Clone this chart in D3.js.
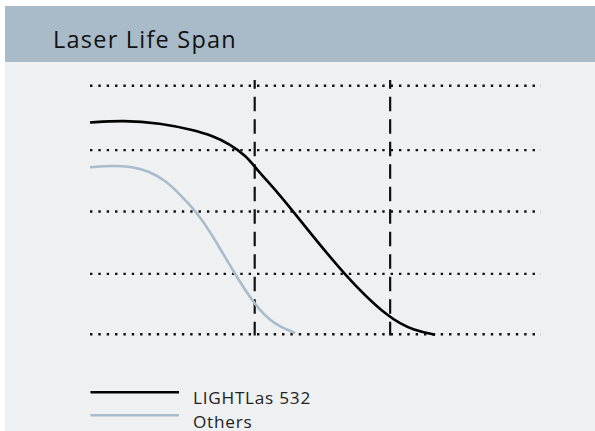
<!DOCTYPE html>
<html>
<head>
<meta charset="utf-8">
<script src="https://cdn.jsdelivr.net/npm/d3@7"></script>
<style>
  html, body { margin: 0; padding: 0; background: #ffffff; }
  svg { display: block; }
</style>
</head>
<body>
<svg id="chart" width="595" height="431"></svg>
<script>
// ---- data ----
const title = "Laser Life Span";
const seriesNames = ["LIGHTLas 532", "Others"];
// x: relative time (0-100), y: relative output (0-100)
const lightlasX = [0, 7.3, 15.6, 22.9, 27.3, 31.1, 34.8, 36.5, 42.2, 45.2, 56.3, 66.7, 72.2, 76.7];
const lightlasY = [85.2, 86.1, 85.0, 82.2, 79.8, 76.5, 71.6, 67.5, 56.0, 49.3, 24.1, 5.8, 1.5, -0.2];
const othersX = [0, 5.1, 8.9, 13.0, 17.0, 19.3, 23.7, 27.4, 32.2, 36.6, 40.7, 45.6];
const othersY = [67.2, 67.9, 67.5, 65.8, 61.5, 57.5, 49.3, 39.3, 24.2, 11.8, 4.1, 0.5];
const gridValues = [0, 24.3, 49.4, 74.1, 100];
const markerValues = [36.6, 66.7];

const W = 595, H = 431;
const svg = d3.select("#chart");
const FONT = "'Open Sans', Lato, sans-serif";

function fitWidth(sel, target) {
  const node = sel.node();
  const len = node.getComputedTextLength();
  const n = node.textContent.length;
  sel.attr("letter-spacing", ((target - len) / n).toFixed(2));
}

// panels
svg.append("rect").attr("x", 5).attr("y", 6).attr("width", W - 5).attr("height", 56).attr("fill", "#a9bbc8");
svg.append("rect").attr("x", 5).attr("y", 62).attr("width", W - 5).attr("height", H - 62).attr("fill", "#eff0f2");

const t = svg.append("text").attr("x", 53).attr("y", 47.5)
  .attr("font-family", FONT).attr("font-size", 23.5)
  .attr("fill", "#111").text(title);
fitWidth(t, 184);

const x = d3.scaleLinear().domain([0, 100]).range([90, 540]);
const y = d3.scaleLinear().domain([0, 100]).range([334.3, 85.7]);

// horizontal dotted grid
svg.append("g").selectAll("line").data(gridValues).join("line")
  .attr("x1", x(0)).attr("x2", x(100) + 1).attr("y1", d => y(d)).attr("y2", d => y(d))
  .attr("stroke", "#111").attr("stroke-width", 2.4).attr("stroke-dasharray", "2.4,5.95");

// vertical dashed markers
svg.append("g").selectAll("line").data(markerValues).join("line")
  .attr("x1", d => x(d)).attr("x2", d => x(d)).attr("y1", 80).attr("y2", 335.5)
  .attr("stroke", "#111").attr("stroke-width", 2.2)
  .attr("stroke-dasharray", "14.5,8").attr("stroke-dashoffset", 5.8);

const line = d3.line().x(d => x(d[0])).y(d => y(d[1])).curve(d3.curveBasis);
svg.append("path").datum(othersX.map((v, i) => [v, othersY[i]]))
  .attr("d", line).attr("fill", "none").attr("stroke", "#a9bccb").attr("stroke-width", 2.6);
svg.append("path").datum(lightlasX.map((v, i) => [v, lightlasY[i]]))
  .attr("d", line).attr("fill", "none").attr("stroke", "#000").attr("stroke-width", 2.6);

// legend
const legColors = ["#000", "#a9bccb"];
const leg = svg.append("g");
let ls = 0;
seriesNames.forEach((name, i) => {
  const ly = 392.3 + i * 23;
  leg.append("line").attr("x1", 90.5).attr("x2", 179).attr("y1", ly).attr("y2", ly)
    .attr("stroke", legColors[i]).attr("stroke-width", 2.6);
  const lt = leg.append("text").attr("x", 193).attr("y", 404.3 + i * 23.2)
    .attr("font-family", FONT).attr("font-size", 17.2)
    .attr("fill", "#222").text(name);
  if (i === 0) { fitWidth(lt, 118); ls = lt.attr("letter-spacing"); }
  else lt.attr("letter-spacing", ls);
});
</script>
</body>
</html>
